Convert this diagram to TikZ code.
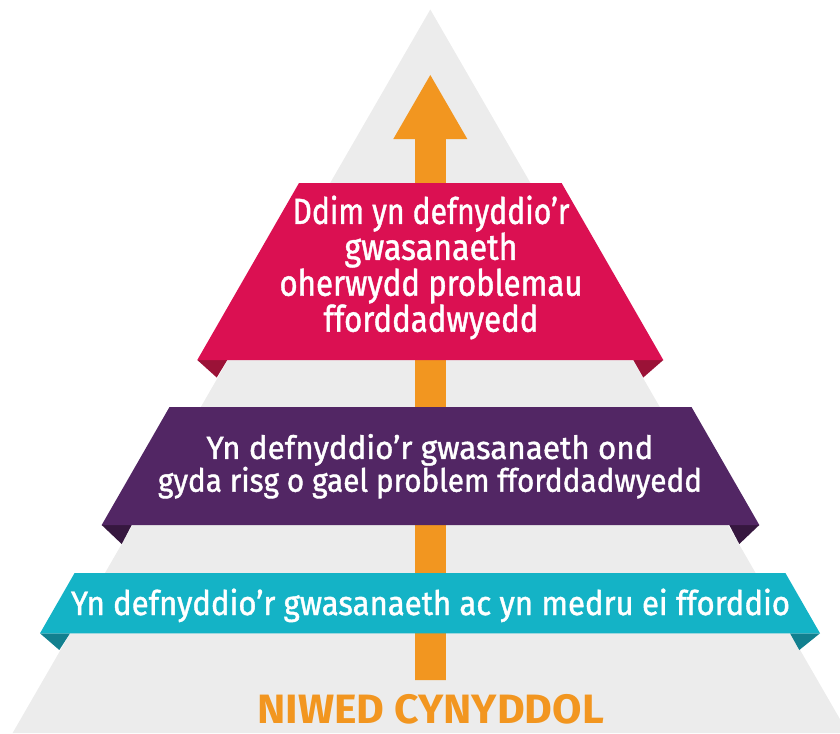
\documentclass[tikz,border=0pt]{standalone}
\usepackage{fontspec}
\setmainfont{Fira Sans}
\newfontfamily\bandfont{Fira Sans}[FakeBold=1.3]
\usepackage{graphicx}
\definecolor{greytri}{HTML}{ECECEC}
\definecolor{arroworange}{HTML}{F29620}
\definecolor{pinkband}{HTML}{DB1052}
\definecolor{pinktab}{HTML}{9B1237}
\definecolor{purpleband}{HTML}{522664}
\definecolor{purpletab}{HTML}{36173F}
\definecolor{cyanband}{HTML}{14B3C6}
\definecolor{cyantab}{HTML}{12808F}
\newcommand\fitline[2]{\resizebox{#1}{\height}{#2}}
\tikzset{
  bandtext/.style={text=white, inner sep=0pt, anchor=base, align=center},
  titletext/.style={text=arroworange, inner sep=0pt, anchor=base, font=\bfseries}
}
\begin{document}
\begin{tikzpicture}[x=1pt,y=-1pt]
\useasboundingbox (0,0) rectangle (840,733);
% grey pyramid
\begin{scope}
\clip (0,0) rectangle (840,733);
\fill[greytri] (430.3,9.5) -- (848,733) -- (12.6,733) -- cycle;
\end{scope}
% orange arrow
\fill[arroworange] (415,680) -- (415,139) -- (393.3,139) -- (430.3,75)
  -- (467.3,139) -- (445.8,139) -- (445.8,680) -- cycle;
% pink band
\fill[pinktab] (197.3,360) -- (227.3,360) -- (216.7,377.5) -- cycle;
\fill[pinktab] (663.3,360) -- (633.3,360) -- (643.3,377.5) -- cycle;
\fill[pinkband] (299,183) -- (561.6,183) -- (663.3,360) -- (197.3,360) -- cycle;
% purple band
\fill[purpletab] (101.7,525) -- (131.7,525) -- (121.7,544) -- cycle;
\fill[purpletab] (759.3,525) -- (729.3,525) -- (739.3,544) -- cycle;
\fill[purpleband] (169.5,407) -- (691.5,407) -- (759.3,525) -- (101.7,525) -- cycle;
% cyan band
\fill[cyantab] (40,633.3) -- (70,633.3) -- (59.3,650) -- cycle;
\fill[cyantab] (820,633.3) -- (790,633.3) -- (799.3,650) -- cycle;
\fill[cyanband] (74.6,573) -- (785.4,573) -- (820,633.3) -- (40,633.3) -- cycle;
% texts (base anchor = baseline of the last line)
\node[bandtext, font=\bandfont\fontsize{36.3}{31.1}\selectfont] (pinktext) at (431,331.7)
  {\fitline{277pt}{Ddim yn defnyddio’r}\\
   \fitline{173pt}{gwasanaeth}\\
   \fitline{303pt}{oherwydd problemau}\\
   \fitline{215pt}{fforddadwyedd}};
\node[bandtext, font=\bandfont\fontsize{32}{29.4}\selectfont] (purpletext) at (430,491.7)
  {\fitline{447pt}{Yn defnyddio’r gwasanaeth ond}\\
   \fitline{544pt}{gyda risg o gael problem fforddadwyedd}};
\node[bandtext, font=\bandfont\fontsize{33.8}{38}\selectfont] (cyantext) at (430.5,615)
  {\fitline{719pt}{Yn defnyddio’r gwasanaeth ac yn medru ei fforddio}};
\node[titletext, font=\fontsize{41}{45}\selectfont\bfseries] (title) at (430.6,723.3)
  {\fitline{346.7pt}{NIWED CYNYDDOL}};
\end{tikzpicture}
\end{document}
